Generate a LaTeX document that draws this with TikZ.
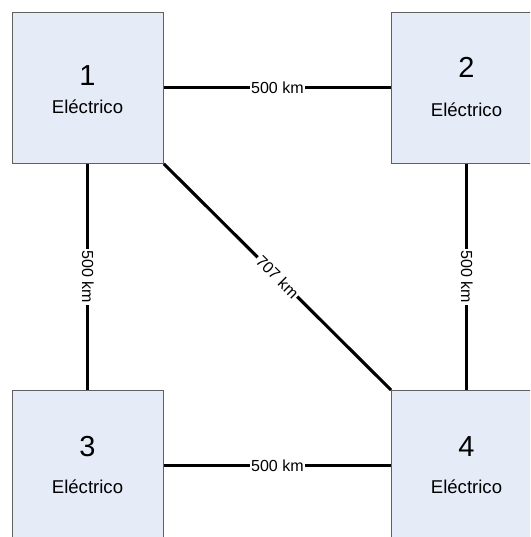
\documentclass[tikz,border=0pt]{standalone}
\usepackage{fontspec}
\setmainfont{Liberation Sans}

\definecolor{boxfill}{RGB}{229,235,247}
\definecolor{boxline}{RGB}{96,96,96}

\tikzset{
  nodo/.style={draw=boxline, fill=boxfill, line width=0.6pt, minimum width=3.775cm,
    minimum height=3.775cm, inner sep=0pt, anchor=north west},
  linea/.style={line width=2.2pt},
  dist/.style={fill=white, inner sep=1pt, font=\fontsize{11.4}{12}\selectfont},
  num/.style={anchor=base, font=\fontsize{20.6}{22}\selectfont},
  tipo/.style={anchor=base, font=\fontsize{13.2}{14}\selectfont},
}

\begin{document}
\begin{tikzpicture}
\useasboundingbox (0,0) rectangle (13.25,-13.425);
\clip (0,0) rectangle (13.25,-13.425);
% the four stations
\node[nodo] (b1) at (0.3,-0.3) {};
\node[nodo] (b2) at (9.775,-0.3) {};
\node[nodo] (b3) at (0.3,-9.75) {};
\node[nodo] (b4) at (9.775,-9.75) {};
%     numbers
\node[num] (n1) at (2.1875,-2.15) {1};
\node[num] (n2) at (11.6625,-1.95) {2};
\node[num] (n3) at (2.1875,-11.4) {3};
\node[num] (n4) at (11.6625,-11.4) {4};
%     type
\node[tipo] (t1) at (2.1875,-2.825) {Eléctrico};
\node[tipo] (t2) at (11.6625,-2.9) {Eléctrico};
\node[tipo] (t3) at (2.1875,-12.325) {Eléctrico};
\node[tipo] (t4) at (11.6625,-12.325) {Eléctrico};
% the lines between them
\draw[linea] (b1) -- node[dist] (d12) {500 km} (b2);
\draw[linea] (b3) -- node[dist] (d34) {500 km} (b4);
\draw[linea] (b1) -- node[dist, rotate=-90] (d13) {500 km} (b3);
\draw[linea] (b2) -- node[dist, rotate=-90] (d24) {500 km} (b4);
\draw[linea] (b1.south east) -- node[dist, rotate=-45] (d14) {707 km} (b4.north west);
\end{tikzpicture}
\end{document}
